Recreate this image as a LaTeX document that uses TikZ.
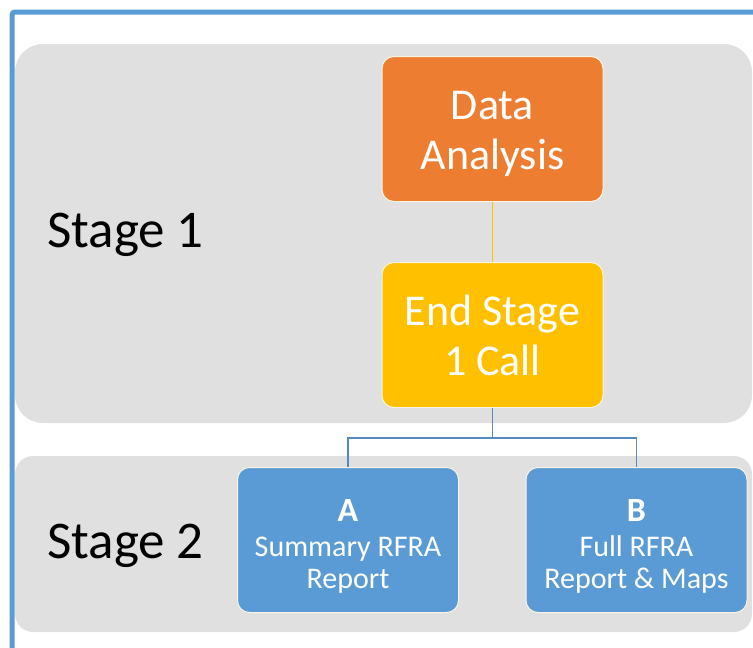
\documentclass[tikz,border=0pt]{standalone}
\usepackage{fontspec}
\setmainfont{Carlito}
\usepackage{tikz}
\usetikzlibrary{positioning}
\definecolor{myorange}{RGB}{237,125,49}
\definecolor{myyellow}{RGB}{255,192,0}
\definecolor{myblue}{RGB}{91,155,213}
\definecolor{mygray}{RGB}{224,224,224}
\definecolor{myedge}{RGB}{252,244,226}
\newcommand{\widthbox}{221pt}
\newcommand{\heightbox}{145pt}
\newcommand{\optletter}[1]{{\fontsize{34}{36}\selectfont\bfseries #1}}
\tikzset{
    common/.style={draw=myedge, line width=1pt, rounded corners=12pt, text=white, align=center, inner sep=0pt},
    topbox/.style={common, minimum width=\widthbox, minimum height=\heightbox, font=\fontsize{44}{50}\selectfont},
    optbox/.style={common, fill=myblue, minimum width=\widthbox, minimum height=\heightbox, font=\fontsize{30}{32}\selectfont},
    stage/.style={anchor=base west, inner sep=0pt, font=\fontsize{53}{56}\selectfont},
    panel/.style={fill=mygray},
    link/.style={myblue!90!black, line width=1.2pt}
}

\begin{document}
\begin{tikzpicture}[x=1pt, y=-1pt]
            \useasboundingbox (0,0) rectangle (753,648);
            \clip (0,0) rectangle (753,648);
            \draw[myblue, line width=5pt, rounded corners=3pt] (12,12) rectangle (790,690);

            \path[panel, rounded corners=28pt] (15,44) rectangle (752,423);
            \path[panel, rounded corners=18pt] (15,456) rectangle (752,632);

            \node[stage] (stageone) at (47,247) {Stage 1};
            \node[stage] (stagetwo) at (47,558) {Stage 2};

            \node[topbox, fill=myorange] (analysis) at (492.5,129) {\rule{0pt}{38pt}Data\\Analysis};
            \node[topbox, fill=myyellow, below=60pt of analysis] (endcall) {End Stage\\1 Call};

            \node[optbox] (optA) at (348,540) {\rule{0pt}{34pt}\optletter{A}\\[3pt]Summary RFRA\\Report};
            \node[optbox] (optB) at (636.5,540) {\rule{0pt}{34pt}\optletter{B}\\[3pt]Full RFRA\\Report \& Maps};

            \draw[myyellow, line width=1.2pt] (analysis) -- (endcall);
            \draw[link] (endcall.south) -- ++(0,30) -| (optA.north);
            \draw[link] (endcall.south) -- ++(0,30) -| (optB.north);

        \end{tikzpicture}
\end{document}
